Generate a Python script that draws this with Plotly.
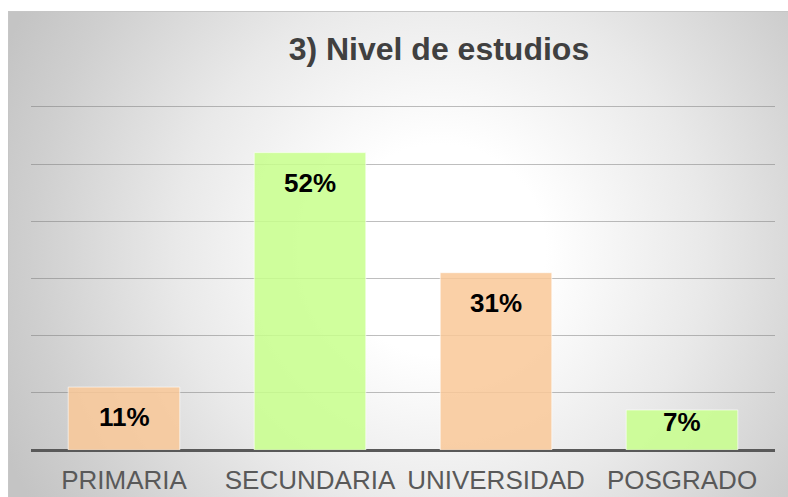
import base64
import plotly.graph_objects as go

categories = ["PRIMARIA", "SECUNDARIA", "UNIVERSIDAD", "POSGRADO"]
values = [0.11, 0.52, 0.31, 0.07]
labels = ["11%", "52%", "31%", "7%"]
bar_colors = ["rgba(249,200,152,0.85)", "rgba(200,255,140,0.85)",
              "rgba(249,200,152,0.85)", "rgba(200,255,140,0.85)"]
title_text = "3) Nivel de estudios"

W, H = 788, 497
ymax = 0.605
ml, mr, mb = 31, 13, 47
ph = round(343 * ymax / 0.6)
mt = H - mb - ph
pw = W - ml - mr

svg = f'''<svg xmlns="http://www.w3.org/2000/svg" width="{W}" height="{H}" viewBox="0 0 {W} {H}">
<defs><radialGradient id="g" gradientUnits="userSpaceOnUse" cx="440" cy="250" r="480">
<stop offset="0" stop-color="#ffffff"/>
<stop offset="0.22" stop-color="#ffffff"/>
<stop offset="0.55" stop-color="#e9e9e9"/>
<stop offset="0.85" stop-color="#cfcfcf"/>
<stop offset="1" stop-color="#c4c4c4"/>
</radialGradient></defs>
<rect x="0" y="0" width="{W}" height="{H}" fill="#ffffff"/>
<rect x="8.5" y="11.5" width="{W}" height="{H}" fill="url(#g)" stroke="#c6c6c6" stroke-width="1"/>
</svg>'''
src = "data:image/svg+xml;base64," + base64.b64encode(svg.encode()).decode()

fig = go.Figure()
fig.add_trace(go.Bar(
    x=categories, y=values, width=0.6,
    marker=dict(color=bar_colors, line=dict(color="rgba(255,255,255,0.6)", width=1)),
    hoverinfo="skip",
))

annotations = []
for c, v, t in zip(categories, values, labels):
    annotations.append(dict(
        x=c, y=v, xref="x", yref="y", text=f"<b>{t}</b>", showarrow=False,
        yanchor="top", yshift=5 if v < 0.1 else -13,
        font=dict(family="Liberation Sans, Arial", size=26, color="#000000"),
    ))

fig.update_layout(
    width=W, height=H,
    margin=dict(l=ml, r=mr, t=mt, b=mb, pad=0),
    paper_bgcolor="rgba(0,0,0,0)",
    plot_bgcolor="rgba(0,0,0,0)",
    showlegend=False,
    bargap=0.4,
    title=dict(text=f"<b>{title_text}</b>", x=0.557, xanchor="center",
               y=1 - 49 / H, yanchor="middle",
               font=dict(family="Liberation Sans, Arial", size=32, color="#404040")),
    images=[dict(source=src, xref="paper", yref="paper",
                 x=-ml / pw, y=1 + mt / ph, sizex=W / pw, sizey=H / ph,
                 xanchor="left", yanchor="top", sizing="stretch", layer="below")],
    annotations=annotations,
    xaxis=dict(showgrid=False, tickfont=dict(family="Liberation Sans, Arial", size=26, color="#595959"),
               ticks="", showline=False, zeroline=False, ticklabelstandoff=12, automargin=False),
    yaxis=dict(range=[0, ymax], dtick=0.1, showticklabels=False, ticks="",
               showgrid=True, gridcolor="rgba(110,110,110,0.45)", gridwidth=1.3,
               zeroline=True, zerolinecolor="#595959", zerolinewidth=2.5, showline=False,
               automargin=False),
    font=dict(family="Liberation Sans, Arial"),
)

fig.write_html("out.html", config={"displayModeBar": False},
               post_script="document.body.style.margin='0';document.body.style.overflow='hidden';")
